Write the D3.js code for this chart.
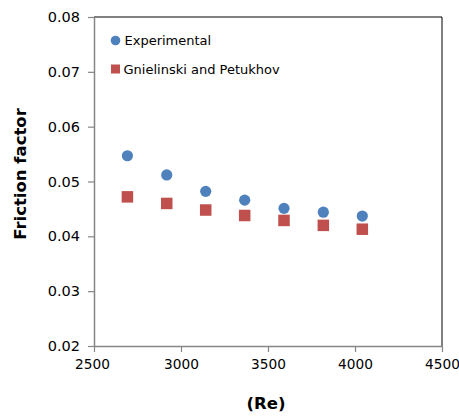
<!DOCTYPE html>
<html>
<head>
<meta charset="utf-8">
<script src="https://cdn.jsdelivr.net/npm/d3@7"></script>
<style>
  body { margin: 0; background: #fff; }
  text { font-family: "DejaVu Sans", sans-serif; }
</style>
</head>
<body>
<div id="chart"></div>
<script>
// Datos
const reValues = [2692, 2918, 3142, 3366, 3592, 3818, 4042];
const experimental = [0.0547, 0.0512, 0.0482, 0.0466, 0.0451, 0.0444, 0.0437];
const gnielinski = [0.0472, 0.0460, 0.0448, 0.0438, 0.0429, 0.0420, 0.0413];
const xTicks = [2500, 3000, 3500, 4000, 4500];
const yTicks = [0.02, 0.03, 0.04, 0.05, 0.06, 0.07, 0.08];
const seriesNames = ['Experimental', 'Gnielinski and Petukhov'];

const width = 459, height = 417;
const plot = { left: 94, right: 442, top: 17, bottom: 346 };

const svg = d3.select('#chart').append('svg')
  .attr('width', width)
  .attr('height', height);

const x = d3.scaleLinear().domain([2500, 4500]).range([plot.left, plot.right]);
const y = d3.scaleLinear().domain([0.02, 0.08]).range([plot.bottom, plot.top]);

// Bordes superior y derecho (negros)
svg.append('path')
  .attr('d', `M${plot.left},${plot.top}H${plot.right}V${plot.bottom}`)
  .attr('fill', 'none')
  .attr('stroke', '#000')
  .attr('stroke-width', 1);

// Eje X
const xAxis = svg.append('g')
  .attr('transform', `translate(0,${plot.bottom})`)
  .call(d3.axisBottom(x).tickValues(xTicks).tickFormat(d3.format('d')).tickSize(6).tickSizeOuter(0).tickPadding(7));

// Eje Y
const yAxis = svg.append('g')
  .attr('transform', `translate(${plot.left},0)`)
  .call(d3.axisLeft(y).tickValues(yTicks).tickFormat(d3.format('.2f')).tickSize(6).tickSizeOuter(0).tickPadding(8));

[xAxis, yAxis].forEach(g => {
  g.select('.domain').attr('stroke', '#868686').attr('stroke-width', 1.5);
  g.selectAll('.tick line').attr('stroke', '#868686').attr('stroke-width', 1.2);
  g.selectAll('.tick text')
    .attr('fill', '#000')
    .style('font-family', '"DejaVu Sans", sans-serif');
});
yAxis.selectAll('.tick text').style('font-size', '14.5px');
xAxis.selectAll('.tick text').style('font-size', '13.7px')
  .attr('x', d => d === 2500 ? -2 : 0);

// Títulos de los ejes
svg.append('text')
  .attr('transform', `translate(26,174) rotate(-90)`)
  .attr('text-anchor', 'middle')
  .style('font-size', '16.5px')
  .style('font-weight', 'bold')
  .text('Friction factor');

svg.append('text')
  .attr('x', 266)
  .attr('y', 409)
  .attr('text-anchor', 'middle')
  .style('font-size', '16.5px')
  .style('font-weight', 'bold')
  .text('(Re)');

// Serie experimental (círculos)
svg.append('g').selectAll('circle')
  .data(reValues.map((re, i) => ({ re, f: experimental[i] })))
  .enter().append('circle')
  .attr('cx', d => x(d.re))
  .attr('cy', d => y(d.f))
  .attr('r', 5.6)
  .attr('fill', '#4F81BD');

// Serie Gnielinski y Petukhov (cuadrados)
const sq = 11.5;
svg.append('g').selectAll('rect')
  .data(reValues.map((re, i) => ({ re, f: gnielinski[i] })))
  .enter().append('rect')
  .attr('x', d => x(d.re) - sq / 2)
  .attr('y', d => y(d.f) - sq / 2)
  .attr('width', sq)
  .attr('height', sq)
  .attr('fill', '#C0504D');

// Leyenda
const legend = svg.append('g');
legend.append('circle')
  .attr('cx', 115.5).attr('cy', 40.5).attr('r', 4.8)
  .attr('fill', '#4F81BD');
legend.append('rect')
  .attr('x', 111).attr('y', 64.5).attr('width', 9).attr('height', 9)
  .attr('fill', '#C0504D');
legend.selectAll('text.lbl')
  .data(seriesNames)
  .enter().append('text')
  .attr('class', 'lbl')
  .attr('x', (d, i) => i === 0 ? 124.5 : 123.5)
  .attr('y', (d, i) => i === 0 ? 45 : 74)
  .style('font-size', '13px')
  .text(d => d);
</script>
</body>
</html>
